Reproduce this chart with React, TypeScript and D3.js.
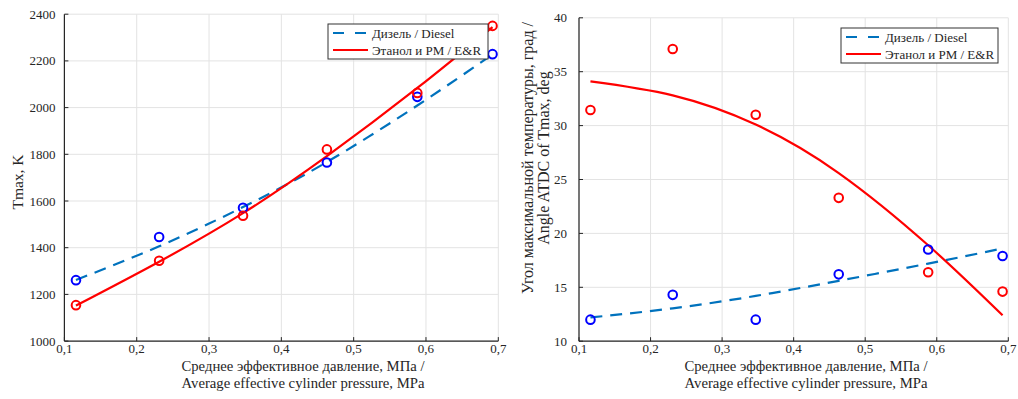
import React from 'react';
import * as d3 from 'd3';

// average effective cylinder pressure, MPa
const pressure = [0.116, 0.231, 0.347, 0.463, 0.588, 0.692];

// Tmax, K
const tmaxDiesel = [1261, 1446, 1571, 1765, 2046, 2229];
const tmaxEthanol = [1154, 1344, 1537, 1821, 2063, 2350];
const tmaxDieselFit = [1262, 1406, 1574, 1767, 2009, 2228];
const tmaxEthanolFit = [1152, 1340, 1548, 1792, 2084, 2345];

// angle ATDC of Tmax, deg
const angleDiesel = [12.0, 14.3, 12.0, 16.2, 18.5, 17.9];
const angleEthanol = [31.45, 37.1, 31.0, 23.3, 16.4, 14.6];
const angleDieselFit = [12.2, 13.05, 14.2, 15.6, 17.2, 18.6];
const angleEthanolFit = [34.1, 32.8, 30.1, 25.6, 18.9, 12.4];

const xTicks = [0.1, 0.2, 0.3, 0.4, 0.5, 0.6, 0.7];
const tmaxTicks = [1000, 1200, 1400, 1600, 1800, 2000, 2200, 2400];
const angleTicks = [10, 15, 20, 25, 30, 35, 40];

const legendLabels = ['Дизель / Diesel', 'Этанол и РМ / E&R'];
const xLabel = ['Среднее эффективное давление, МПа /', 'Average effective cylinder pressure, MPa'];

const FONT = "'Liberation Serif', 'Times New Roman', Times, 'DejaVu Serif', serif";
const AXIS = '#262626';
const GRID = '#e3e3e3';
const DIESEL_LINE = '#0072bd';
const DIESEL_MARK = '#0000ff';
const ETHANOL = '#ff0000';

interface PanelProps {
  left: number;
  right: number;
  top: number;
  bottom: number;
  yTicks: number[];
  diesel: number[];
  ethanol: number[];
  dieselFit: number[];
  ethanolFit: number[];
  yLabel: string[];
  yLabelX: number;
  yLabelY: number;
  yLabelSize: number;
  xLabelX: number;
  tickGap: number;
  legend: { x: number; y: number; w: number };
}

const txt = { fontFamily: FONT };

const Panel: React.FC<PanelProps> = (p) => {
  const x = d3.scaleLinear().domain([0.1, 0.7]).range([p.left, p.right]);
  const y = d3
    .scaleLinear()
    .domain([p.yTicks[0], p.yTicks[p.yTicks.length - 1]])
    .range([p.bottom, p.top]);
  const line = d3
    .line<number>()
    .x((_, i) => x(pressure[i]))
    .y((d) => y(d))
    .curve(d3.curveNatural);
  const fmt = (v: number) => d3.format('.1f')(v).replace('.', ',');

  return (
    <g>
      {/* grid */}
      {xTicks.map((t) => (
        <line key={'gx' + t} x1={x(t)} x2={x(t)} y1={p.top} y2={p.bottom} stroke={GRID} />
      ))}
      {p.yTicks.map((t) => (
        <line key={'gy' + t} x1={p.left} x2={p.right} y1={y(t)} y2={y(t)} stroke={GRID} />
      ))}
      {/* axes */}
      <line x1={p.left} x2={p.left} y1={p.top} y2={p.bottom} stroke={AXIS} strokeWidth={1.2} />
      <line x1={p.left} x2={p.right} y1={p.bottom} y2={p.bottom} stroke={AXIS} strokeWidth={1.2} />
      {xTicks.map((t) => (
        <g key={'tx' + t}>
          <line x1={x(t)} x2={x(t)} y1={p.bottom} y2={p.bottom - 4} stroke={AXIS} />
          <text style={txt} x={x(t)} y={p.bottom + 12} textAnchor="middle" fontSize={13} fill={AXIS}>
            {fmt(t)}
          </text>
        </g>
      ))}
      {p.yTicks.map((t) => (
        <g key={'ty' + t}>
          <line x1={p.left} x2={p.left + 4} y1={y(t)} y2={y(t)} stroke={AXIS} />
          <text style={txt} x={p.left - p.tickGap} y={y(t)} dy="0.35em" textAnchor="end" fontSize={13} fill={AXIS}>
            {t}
          </text>
        </g>
      ))}
      {/* labels */}
      {xLabel.map((s, i) => (
        <text style={txt} key={s} x={p.xLabelX} y={p.bottom + 30 + i * 17} textAnchor="middle" fontSize={14.7} fill={AXIS}>
          {s}
        </text>
      ))}
      {p.yLabel.map((s, i) => (
        <text
          style={txt}
          key={s}
          transform={`translate(${p.yLabelX + i * 16},${p.yLabelY}) rotate(-90)`}
          dy="0.35em"
          textAnchor="middle"
          fontSize={p.yLabelSize}
          fill={AXIS}
        >
          {s}
        </text>
      ))}
      {/* fits */}
      <path d={line(p.dieselFit) ?? ''} fill="none" stroke={DIESEL_LINE} strokeWidth={2.2} strokeDasharray="12,8" />
      <path d={line(p.ethanolFit) ?? ''} fill="none" stroke={ETHANOL} strokeWidth={2.2} />
      {/* points */}
      {p.diesel.map((v, i) => (
        <circle key={'d' + i} cx={x(pressure[i])} cy={y(v)} r={4.3} fill="none" stroke={DIESEL_MARK} strokeWidth={2} />
      ))}
      {p.ethanol.map((v, i) => (
        <circle key={'e' + i} cx={x(pressure[i])} cy={y(v)} r={4.3} fill="none" stroke={ETHANOL} strokeWidth={2} />
      ))}
      {/* legend */}
      <g transform={`translate(${p.legend.x},${p.legend.y})`}>
        <rect x={0} y={0} width={p.legend.w} height={35} fill="#fff" stroke="#333" strokeWidth={1} />
        <line x1={5} x2={40} y1={9} y2={9} stroke={DIESEL_LINE} strokeWidth={2.2} strokeDasharray="11,11" />
        <line x1={5} x2={40} y1={26} y2={26} stroke={ETHANOL} strokeWidth={2.2} />
        {legendLabels.map((s, i) => (
          <text style={txt} key={s} x={44} y={9 + i * 17} dy="0.35em" fontSize={13} fill={AXIS}>
            {s}
          </text>
        ))}
      </g>
    </g>
  );
};

export default function App() {
  return (
    <svg
      width={1018}
      height={399}
      style={{ position: 'absolute', left: 0, top: 0, background: '#fff' }}
    >
      <Panel
        left={64.4}
        right={498.3}
        top={14.2}
        bottom={341.1}
        yTicks={tmaxTicks}
        diesel={tmaxDiesel}
        ethanol={tmaxEthanol}
        dieselFit={tmaxDieselFit}
        ethanolFit={tmaxEthanolFit}
        yLabel={['Tmax, K']}
        yLabelX={18}
        yLabelY={182}
        yLabelSize={15.5}
        xLabelX={303}
        tickGap={9}
        legend={{ x: 328, y: 24, w: 160 }}
      />
      <Panel
        left={579}
        right={1008.3}
        top={17.8}
        bottom={341.2}
        yTicks={angleTicks}
        diesel={angleDiesel}
        ethanol={angleEthanol}
        dieselFit={angleDieselFit}
        ethanolFit={angleEthanolFit}
        yLabel={['Угол максимальной температуры, град /', 'Angle ATDC of Tmax, deg']}
        yLabelX={527}
        yLabelY={158}
        yLabelSize={16}
        xLabelX={806}
        tickGap={12}
        legend={{ x: 841, y: 28, w: 157 }}
      />
    </svg>
  );
}
